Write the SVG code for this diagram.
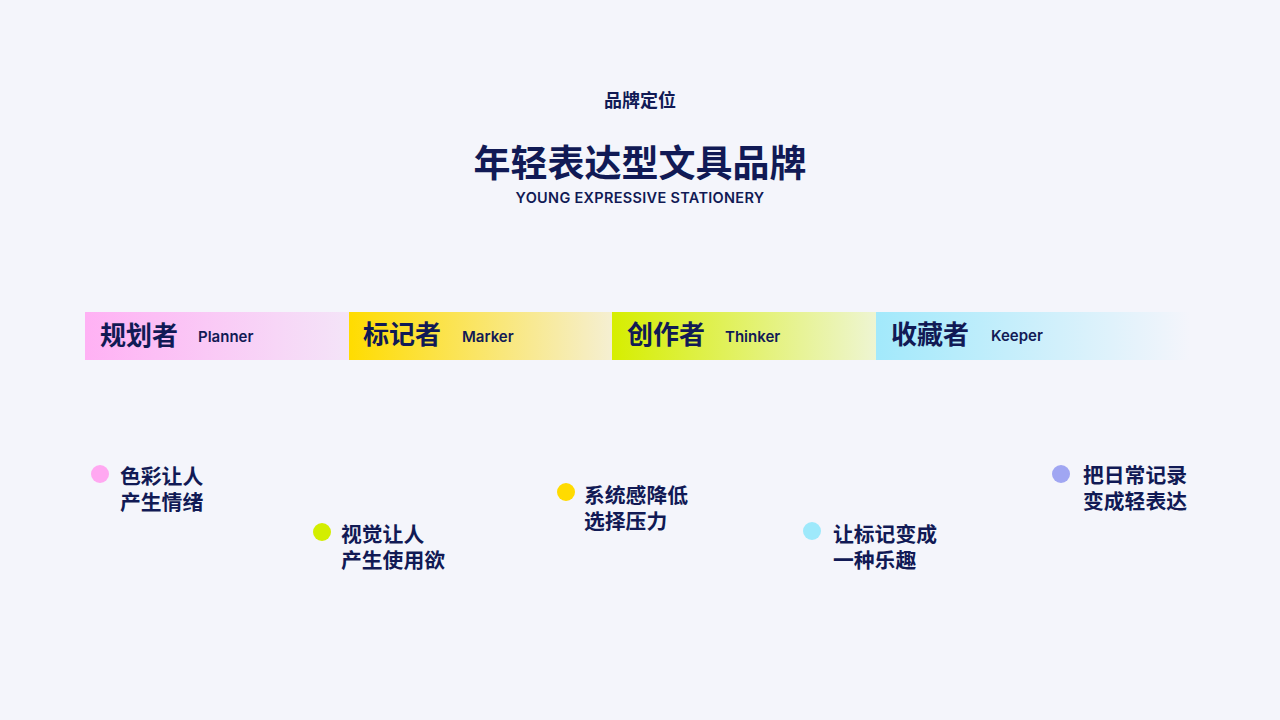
<svg xmlns="http://www.w3.org/2000/svg" width="1280" height="720" viewBox="0 0 1280 720">
<defs>
<linearGradient id="g1" x1="0" x2="1" y1="0" y2="0"><stop offset="0" stop-color="#ffb1f4"/><stop offset="1" stop-color="#f4e4f8"/></linearGradient>
<linearGradient id="g2" x1="0" x2="1" y1="0" y2="0"><stop offset="0" stop-color="#ffdc00"/><stop offset="1" stop-color="#f5efd2"/></linearGradient>
<linearGradient id="g3" x1="0" x2="1" y1="0" y2="0"><stop offset="0" stop-color="#d6ee00"/><stop offset="1" stop-color="#eef5d2"/></linearGradient>
<linearGradient id="g4" x1="0" x2="1" y1="0" y2="0"><stop offset="0" stop-color="#a2e9fb"/><stop offset="1" stop-color="#f4f5fb"/></linearGradient>
<style>
.t{font-family:"Noto Sans CJK SC",sans-serif;font-weight:700;fill:#111a55}
.e{font-family:Inter,"Noto Sans",sans-serif;font-weight:600;fill:#111a55}
.h{font-size:26px}
.s{font-size:15px}
.b{font-size:20.8px}
</style>
</defs>
<rect width="1280" height="720" fill="#f4f5fb"/>
<g id="header">
<text class="t" x="640" y="107" font-size="18" text-anchor="middle">品牌定位</text>
<text class="t" x="640" y="177" font-size="37" text-anchor="middle">年轻表达型文具品牌</text>
<text class="e" x="640" y="203" font-size="14.5" text-anchor="middle" letter-spacing="0.3">YOUNG EXPRESSIVE STATIONERY</text>
</g>
<g id="planner">
<rect x="85" y="312" width="264" height="48" fill="url(#g1)"/>
<text class="t h" x="100" y="345">规划者</text>
<text class="e s" x="198" y="342">Planner</text>
</g>
<g id="marker">
<rect x="349" y="312" width="263" height="48" fill="url(#g2)"/>
<text class="t h" x="363" y="344">标记者</text>
<text class="e s" x="462" y="342">Marker</text>
</g>
<g id="thinker">
<rect x="612" y="312" width="264" height="48" fill="url(#g3)"/>
<text class="t h" x="627" y="344">创作者</text>
<text class="e s" x="725" y="342">Thinker</text>
</g>
<g id="keeper">
<rect x="876" y="312" width="314" height="48" fill="url(#g4)"/>
<text class="t h" x="891" y="344">收藏者</text>
<text class="e s" x="991" y="341">Keeper</text>
</g>
<g id="p1">
<circle cx="100" cy="474" r="9" fill="#ffa8f1"/>
<text class="t b" x="120" y="484">色彩让人<tspan x="120" dy="26">产生情绪</tspan></text>
</g>
<g id="p2">
<circle cx="322" cy="532" r="9" fill="#d3ee00"/>
<text class="t b" x="341" y="542">视觉让人<tspan x="341" dy="26">产生使用欲</tspan></text>
</g>
<g id="p3">
<circle cx="566" cy="492" r="9" fill="#ffdb00"/>
<text class="t b" x="584" y="503">系统感降低<tspan x="584" dy="26">选择压力</tspan></text>
</g>
<g id="p4">
<circle cx="812" cy="531" r="9" fill="#9ee9fb"/>
<text class="t b" x="833" y="542">让标记变成<tspan x="833" dy="26">一种乐趣</tspan></text>
</g>
<g id="p5">
<circle cx="1061" cy="474" r="9" fill="#a0a6f2"/>
<text class="t b" x="1083" y="483">把日常记录<tspan x="1083" dy="26">变成轻表达</tspan></text>
</g>
<g id="connectors"/>
</svg>
